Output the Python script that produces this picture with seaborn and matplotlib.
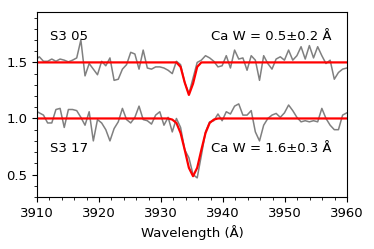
import numpy as np
import pandas as pd
import seaborn as sns
import matplotlib
matplotlib.use("Agg")
import matplotlib.pyplot as plt
from matplotlib.ticker import MultipleLocator

# wavelength grid of the spectra (Angstrom), ~0.67 A sampling
wave = np.round(3909.7 + 0.67 * np.arange(77), 2)

# star S3 05 (offset by +0.5)
flux_s305 = [1.52, 1.55, 1.51, 1.51, 1.53, 1.51, 1.53, 1.52, 1.505, 1.52,
             1.54, 1.70, 1.38, 1.49, 1.44, 1.39, 1.51, 1.47, 1.54, 1.34,
             1.35, 1.44, 1.48, 1.59, 1.575, 1.44, 1.61, 1.45, 1.44, 1.46,
             1.46, 1.45, 1.43, 1.40, 1.51, 1.48, 1.32, 1.22, 1.36, 1.50,
             1.52, 1.56, 1.54, 1.51, 1.46, 1.47, 1.56, 1.45, 1.61, 1.53,
             1.54, 1.43, 1.56, 1.52, 1.34, 1.56, 1.49, 1.44, 1.53, 1.55,
             1.52, 1.61, 1.52, 1.56, 1.64, 1.53, 1.65, 1.54, 1.64, 1.56,
             1.49, 1.52, 1.35, 1.41, 1.44, 1.45, 1.46]
fit_s305 = [1.5] * 35 + [1.46, 1.32, 1.21, 1.31, 1.46] + [1.5] * 37

# star S3 17
flux_s317 = [1.07, 1.05, 1.03, 0.96, 0.96, 1.08, 1.09, 0.92, 1.08, 1.08,
             1.07, 1.01, 0.94, 1.06, 0.80, 0.99, 0.96, 0.90, 0.80, 0.91,
             0.97, 1.09, 0.99, 0.96, 1.01, 1.11, 0.99, 0.98, 0.95, 1.03,
             1.06, 0.94, 1.01, 0.88, 1.00, 0.92, 0.72, 0.65, 0.50, 0.47,
             0.67, 0.88, 0.97, 0.98, 1.04, 0.98, 1.06, 1.04, 1.11, 1.13,
             1.03, 1.03, 1.07, 0.88, 0.80, 0.94, 1.00, 1.03, 1.045, 1.01,
             1.05, 1.12, 1.07, 1.01, 0.97, 0.98, 0.97, 0.98, 0.97, 1.09,
             1.00, 0.94, 0.90, 0.90, 1.03, 1.05, 1.06]
fit_s317 = [1.0] * 33 + [0.99, 0.96, 0.87, 0.72, 0.56, 0.485, 0.56, 0.72,
                         0.87, 0.96, 0.99] + [1.0] * 33

names = ["S3 05", "S3 17"]
ew_labels = ["Ca W = 0.5\u00b10.2 \u00c5", "Ca W = 1.6\u00b10.3 \u00c5"]

df = pd.DataFrame({"wave": wave, "s305": flux_s305, "s317": flux_s317,
                   "fit305": fit_s305, "fit317": fit_s317})

plt.rcParams["font.size"] = 9.5
fig, ax = plt.subplots(figsize=(3.74, 2.49), dpi=100)
fig.subplots_adjust(left=0.099, right=0.928, bottom=0.209, top=0.952)

for col in ["s305", "s317"]:
    sns.lineplot(data=df, x="wave", y=col, ax=ax, color="grey", lw=1.1)
for col in ["fit305", "fit317"]:
    sns.lineplot(data=df, x="wave", y=col, ax=ax, color="red", lw=1.6)

ax.text(3912.1, 1.73, names[0], va="center", ha="left")
ax.text(3912.1, 0.73, names[1], va="center", ha="left")
ax.text(3938.1, 1.735, ew_labels[0], va="center", ha="left")
ax.text(3938.1, 0.73, ew_labels[1], va="center", ha="left")

ax.set_xlim(3910, 3960)
ax.set_ylim(0.3, 1.95)
ax.xaxis.set_major_locator(MultipleLocator(10))
ax.xaxis.set_minor_locator(MultipleLocator(2))
ax.yaxis.set_major_locator(MultipleLocator(0.5))
ax.yaxis.set_minor_locator(MultipleLocator(0.1))
ax.set_xlabel("Wavelength (\u00c5)")
ax.set_ylabel("")

fig.savefig("out.png", dpi=100)
